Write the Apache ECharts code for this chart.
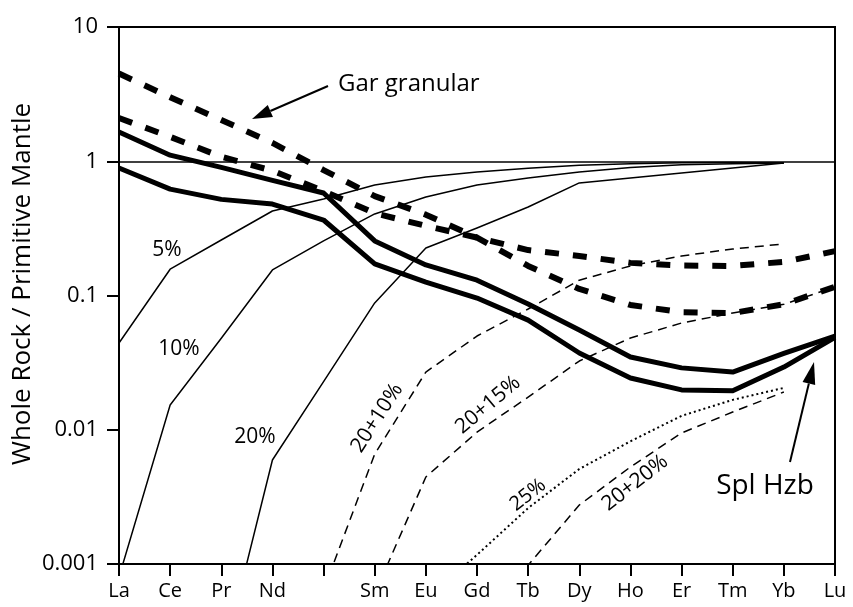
<!DOCTYPE html>
<html>
<head>
<meta charset="utf-8">
<script src="https://cdn.jsdelivr.net/npm/echarts@6/dist/echarts.min.js"></script>
<style>
  html, body { margin: 0; padding: 0; background: #fff; }
  #chart { width: 853px; height: 607px; }
</style>
</head>
<body>
<div id="chart"></div>
<script>
  'use strict'

  /*----- data -----*/
  var elements = ['La', 'Ce', 'Pr', 'Nd', '', 'Sm', 'Eu', 'Gd', 'Tb', 'Dy', 'Ho', 'Er', 'Tm', 'Yb', 'Lu'];
  var yTicks = [0.001, 0.01, 0.1, 1, 10];

  // garnet granular (thick dashed)
  var garA = [4.5, 3.0, 2.03, 1.37, 0.86, 0.55, 0.40, 0.27, 0.166, 0.112, 0.085, 0.075, 0.074, 0.086, 0.116];
  var garB = [2.1, 1.52, 1.08, 0.85, 0.60, 0.41, 0.33, 0.27, 0.218, 0.197, 0.175, 0.167, 0.166, 0.178, 0.214];

  // spinel harzburgite (thick solid)
  var splA = [1.65, 1.11, 0.90, 0.72, 0.58, 0.255, 0.169, 0.130, 0.0865, 0.0553, 0.0348, 0.0289, 0.0269, 0.0370, 0.0499];
  var splB = [0.89, 0.62, 0.52, 0.48, 0.365, 0.172, 0.126, 0.0957, 0.0656, 0.0373, 0.0243, 0.0198, 0.0195, 0.0293, 0.0487];

  // melting models
  var melt5 = [0.0443, 0.157, 0.259, 0.426, 0.523, 0.665, 0.764, 0.83, 0.886, 0.935, 0.96, 0.975, 0.98, 0.97, null];
  var melt10 = [0.0008, 0.0153, 0.048, 0.155, 0.255, 0.405, 0.542, 0.665, 0.75, 0.83, 0.90, 0.94, 0.96, 0.97, null];
  var melt20 = [null, null, 0.000174, 0.00595, 0.0228, 0.088, 0.226, 0.318, 0.456, 0.69, 0.75, 0.818, 0.89, 0.97, null];
  var melt20p10 = [null, null, null, null, 0.00064, 0.00659, 0.0269, 0.0499, 0.0793, 0.130, 0.166, 0.197, 0.222, 0.242, null];
  var melt20p15 = [null, null, null, null, null, 0.0006, 0.00445, 0.0096, 0.0175, 0.0325, 0.0482, 0.0624, 0.074, 0.086, 0.116];
  var melt25 = [null, null, null, null, null, null, 0.00054, 0.00117, 0.00261, 0.0051, 0.0082, 0.0127, 0.0167, 0.0205, null];
  var melt20p20 = [null, null, null, null, null, null, null, 0.00035, 0.00098, 0.00275, 0.00528, 0.00946, 0.01355, 0.0191, null];

  var font = '"Open Sans", "Noto Sans", sans-serif';

  function curve(name, data, width, type) {
    return {
      name: name,
      type: 'line',
      data: data,
      symbol: 'none',
      clip: true,
      silent: true,
      lineStyle: { color: '#000', width: width, type: type, cap: 'butt', join: 'round' }
    };
  }

  var series = [
    curve('5%', melt5, 1.5, 'solid'),
    curve('10%', melt10, 1.5, 'solid'),
    curve('20%', melt20, 1.5, 'solid'),
    curve('20+10%', melt20p10, 1.5, [9, 6]),
    curve('20+15%', melt20p15, 1.5, [9, 6]),
    curve('20+20%', melt20p20, 1.5, [9, 6]),
    curve('25%', melt25, 2, [2, 3]),
    curve('Gar granular A', garA, 6, [14, 14]),
    curve('Gar granular B', garB, 6, [14, 14]),
    curve('Spl Hzb A', splA, 5, 'solid'),
    curve('Spl Hzb B', splB, 5, 'solid')
  ];

  // horizontal reference line at 1
  series[0].markLine = {
    silent: true,
    symbol: 'none',
    label: { show: false },
    lineStyle: { color: '#000', width: 1.5, type: 'solid' },
    data: [{ yAxis: 1 }]
  };

  function text(str, x, y, size, rot, align) {
    return {
      type: 'text',
      x: x, y: y,
      rotation: (rot || 0) * Math.PI / 180,
      style: {
        text: str, fill: '#000', font: size + 'px ' + font,
        align: align || 'center', verticalAlign: 'middle'
      }
    };
  }

  function arrow(x1, y1, x2, y2, headLen, headW) {
    var a = Math.atan2(y2 - y1, x2 - x1);
    var bx = x2 - headLen * Math.cos(a), by = y2 - headLen * Math.sin(a);
    var px = -Math.sin(a) * headW / 2, py = Math.cos(a) * headW / 2;
    return [
      { type: 'line', shape: { x1: x1, y1: y1, x2: bx, y2: by }, style: { stroke: '#000', lineWidth: 2 } },
      { type: 'polygon', shape: { points: [[x2, y2], [bx + px, by + py], [bx - px, by - py]] }, style: { fill: '#000' } }
    ];
  }

  var graphics = [
    text('Whole Rock / Primitive Mantle', 23, 284, 26, 90),
    text('Gar granular', 338, 84, 24, 0, 'left'),
    text('Spl Hzb', 765, 486, 28),
    text('5%', 167, 250, 21),
    text('10%', 179, 349, 21),
    text('20%', 255, 437, 21),
    text('20+10%', 377, 418, 21, 57),
    text('20+15%', 488, 405, 21, 40),
    text('25%', 528, 495, 20, 38),
    text('20+20%', 635, 483, 21, 38)
  ].concat(arrow(328, 86, 252, 119, 20, 13), arrow(790, 462, 814, 362, 22, 13));

  var option = {
    animation: false,
    backgroundColor: '#fff',
    textStyle: { fontFamily: font },
    grid: {
      left: 119, right: 18, top: 27, bottom: 43,
      show: true, borderColor: '#000', borderWidth: 2, backgroundColor: 'transparent'
    },
    xAxis: {
      type: 'category',
      data: elements,
      boundaryGap: false,
      axisLine: { lineStyle: { color: '#000', width: 2 } },
      axisTick: { show: true, inside: false, length: 12, alignWithLabel: true, interval: 0, lineStyle: { color: '#000', width: 2 } },
      axisLabel: { interval: 0, color: '#000', fontSize: 20, margin: 17, fontFamily: font },
      splitLine: { show: false }
    },
    yAxis: {
      type: 'log',
      logBase: 10,
      min: yTicks[0],
      max: yTicks[yTicks.length - 1],
      axisLine: { show: true, lineStyle: { color: '#000', width: 2 } },
      axisTick: { show: true, inside: false, length: 12, lineStyle: { color: '#000', width: 2 } },
      axisLabel: {
        color: '#000', fontSize: 22, margin: 21, fontFamily: font,
        formatter: function (v) { return String(+Number(v).toPrecision(1)); }
      },
      splitLine: { show: false },
      minorTick: { show: false }
    },
    series: series,
    graphic: graphics
  };

  var chart = echarts.init(document.getElementById('chart'));
  chart.setOption(option);
</script>
</body>
</html>
